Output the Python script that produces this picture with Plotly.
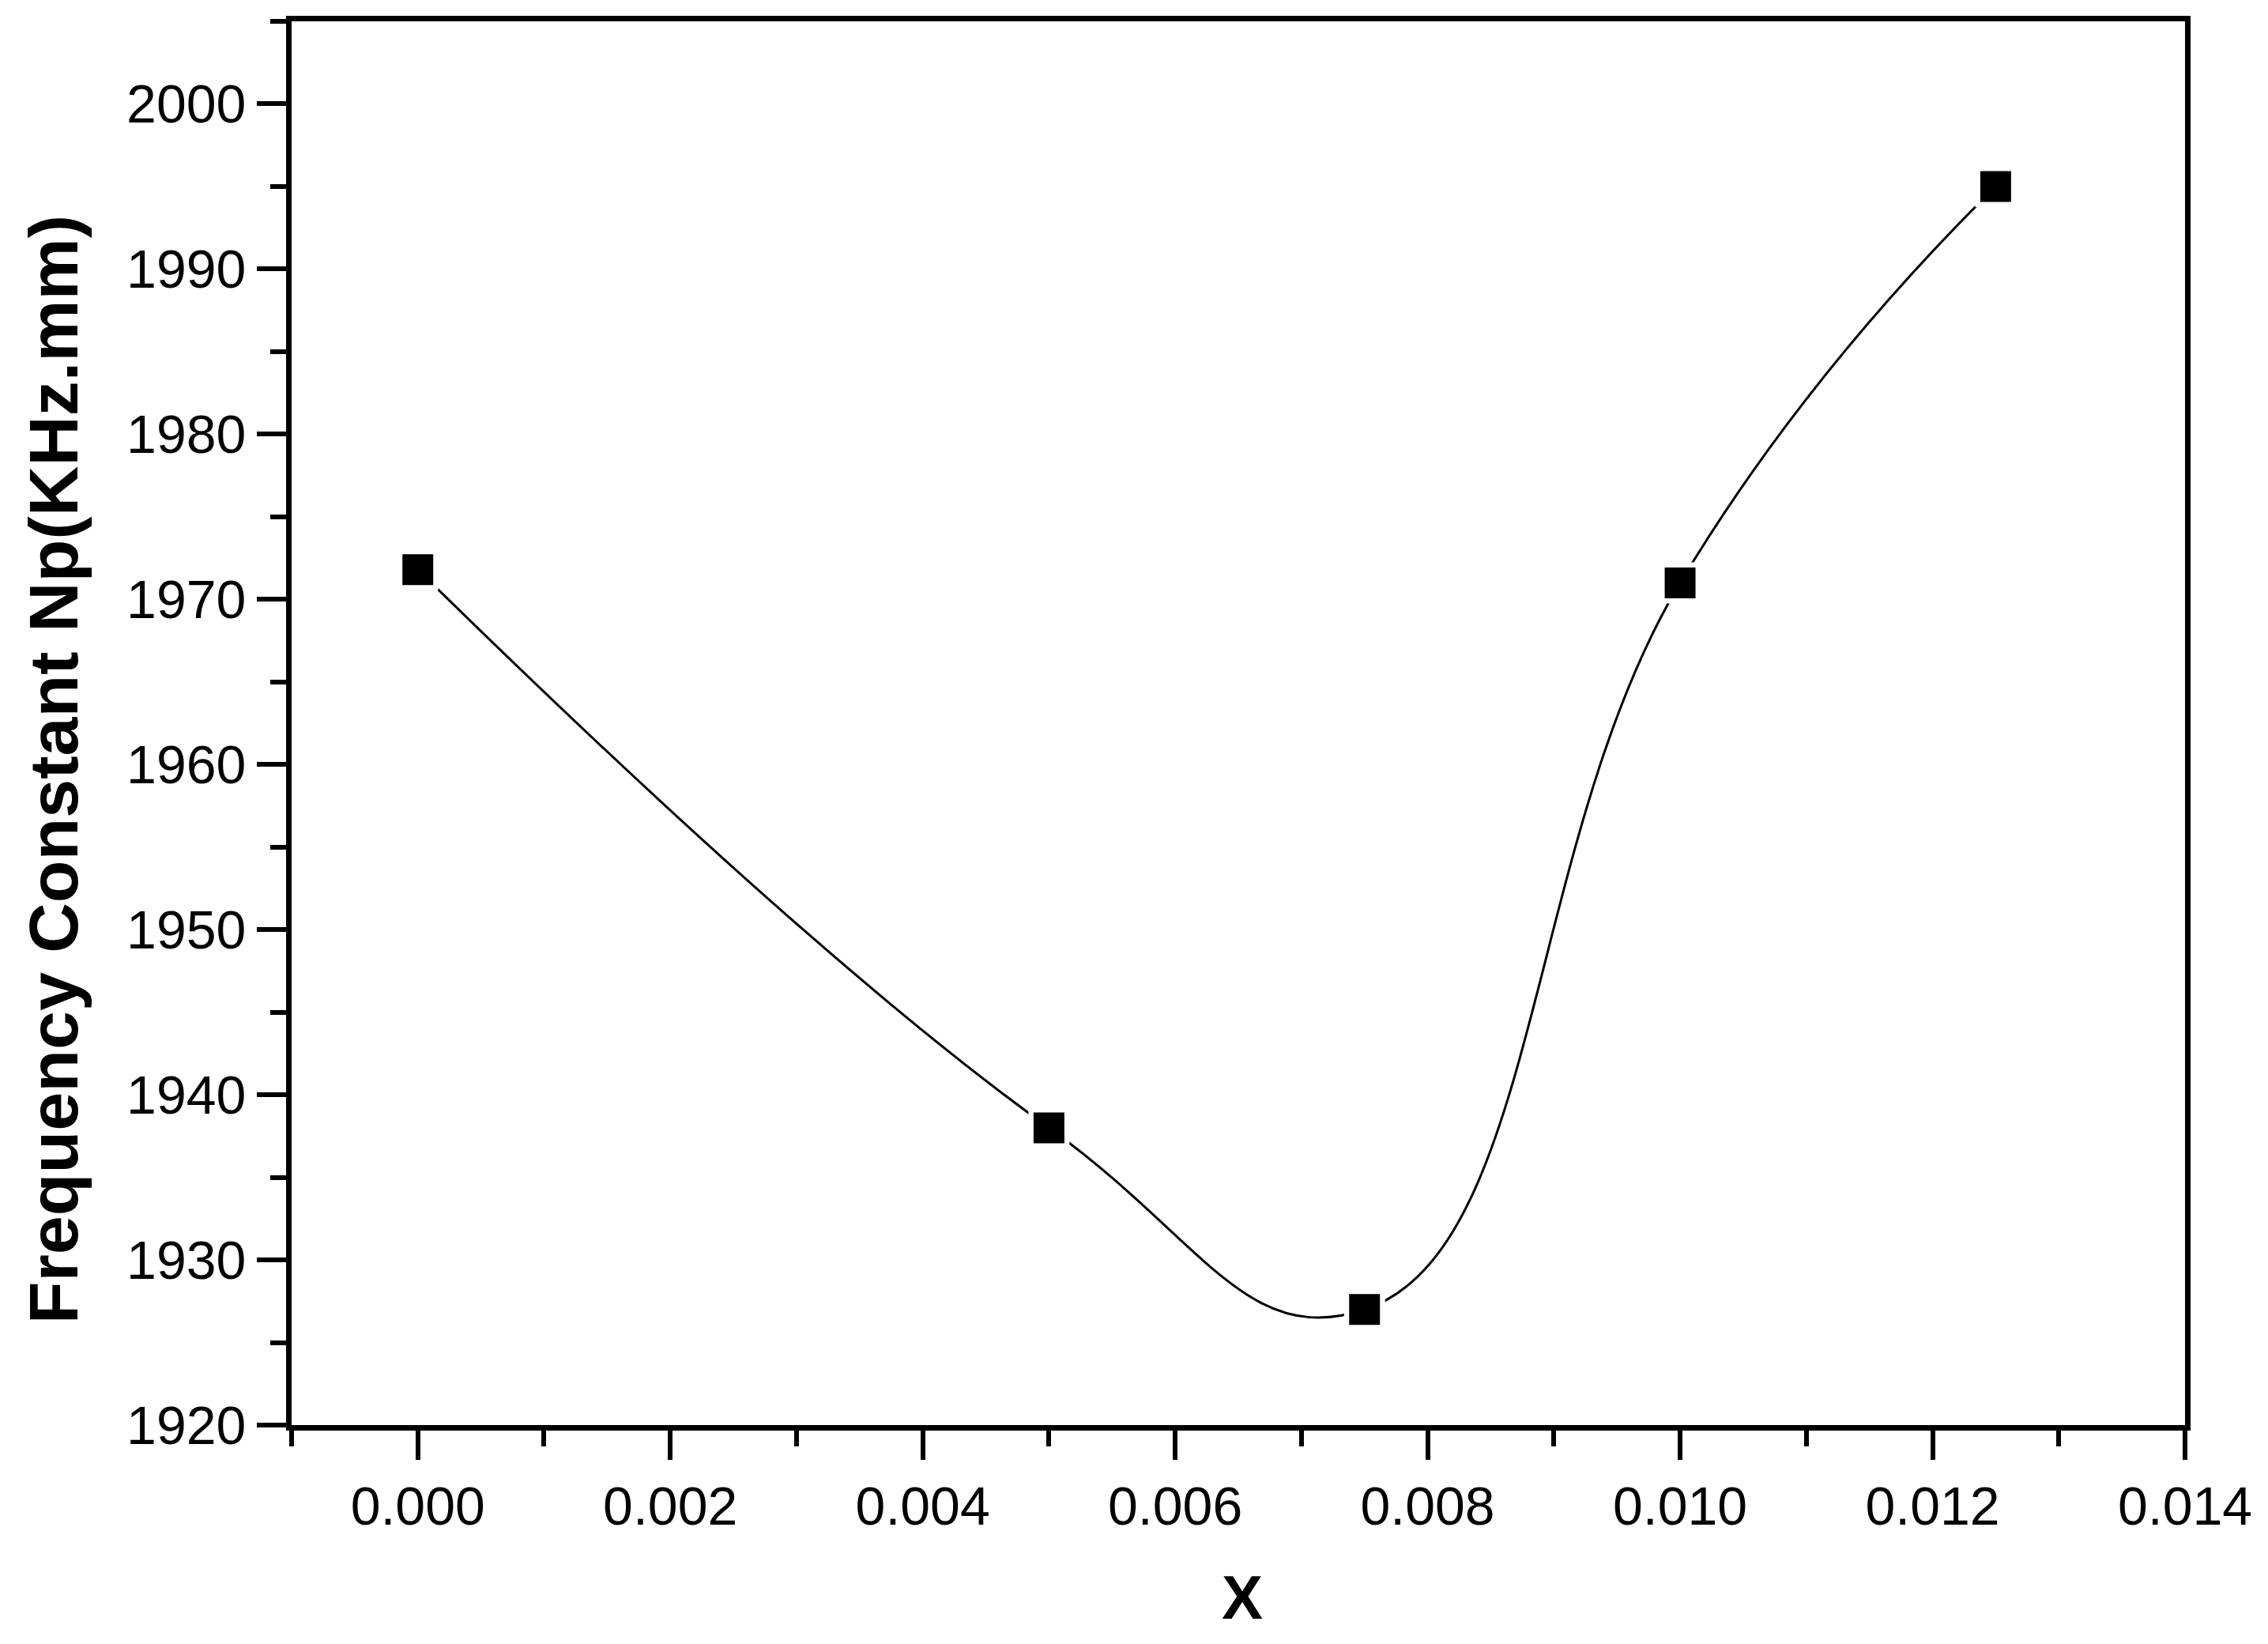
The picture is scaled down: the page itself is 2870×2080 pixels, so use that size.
import plotly.graph_objects as go

# composition x and frequency constant Np (KHz.mm)
x_vals = [0.0, 0.005, 0.0075, 0.010, 0.0125]
np_vals = [1971.8, 1938.0, 1927.0, 1971.0, 1995.0]

x_ticks = [0.000, 0.002, 0.004, 0.006, 0.008, 0.010, 0.012, 0.014]
y_ticks = [1920, 1930, 1940, 1950, 1960, 1970, 1980, 1990, 2000]

FONT = "Arial, Liberation Sans"

fig = go.Figure()

# smooth connecting curve
fig.add_trace(go.Scatter(
    x=x_vals, y=np_vals, mode="lines",
    line=dict(color="black", width=3, shape="spline", smoothing=1.3),
    showlegend=False, hoverinfo="skip"))
# white halo so the curve stops short of the symbols
fig.add_trace(go.Scatter(
    x=x_vals, y=np_vals, mode="markers",
    marker=dict(symbol="square", size=52, color="white"),
    showlegend=False, hoverinfo="skip"))
fig.add_trace(go.Scatter(
    x=x_vals, y=np_vals, mode="markers",
    marker=dict(symbol="square", size=39, color="black"),
    showlegend=False))

axis_common = dict(
    showline=True, linecolor="black", linewidth=7, mirror=True,
    showgrid=False, zeroline=False,
    ticks="outside", ticklen=37, tickwidth=6, tickcolor="black",
)

fig.update_xaxes(
    range=[-0.001, 0.014], tickvals=x_ticks, tickformat=".3f",
    tickfont=dict(family=FONT, size=68, color="black"),
    minor=dict(dtick=0.001, tick0=0, ticks="outside", ticklen=20,
               tickwidth=6, tickcolor="black"),
    **axis_common)
fig.update_yaxes(
    range=[1920, 2005], tickvals=y_ticks,
    tickfont=dict(family=FONT, size=68, color="black"),
    minor=dict(dtick=5, tick0=1920, ticks="outside", ticklen=20,
               tickwidth=6, tickcolor="black"),
    **axis_common)

fig.add_annotation(
    text="<b>Frequency Constant Np(KHz.mm)</b>", textangle=-90,
    xref="paper", yref="paper", x=-0.1258, y=0.467,
    xanchor="center", yanchor="middle", showarrow=False,
    font=dict(family=FONT, size=88, color="black"))
fig.add_annotation(
    text="<b>X</b>",
    xref="paper", yref="paper", x=0.502, y=-0.123,
    xanchor="center", yanchor="middle", showarrow=False,
    font=dict(family=FONT, size=78, color="black"))

# page body adds an 8px margin, so the figure is a little smaller than the window
fig.update_layout(
    width=2854, height=2064,
    margin=dict(l=361, r=90, t=12, b=269),
    paper_bgcolor="white", plot_bgcolor="white",
)

fig.write_html("out.html")
